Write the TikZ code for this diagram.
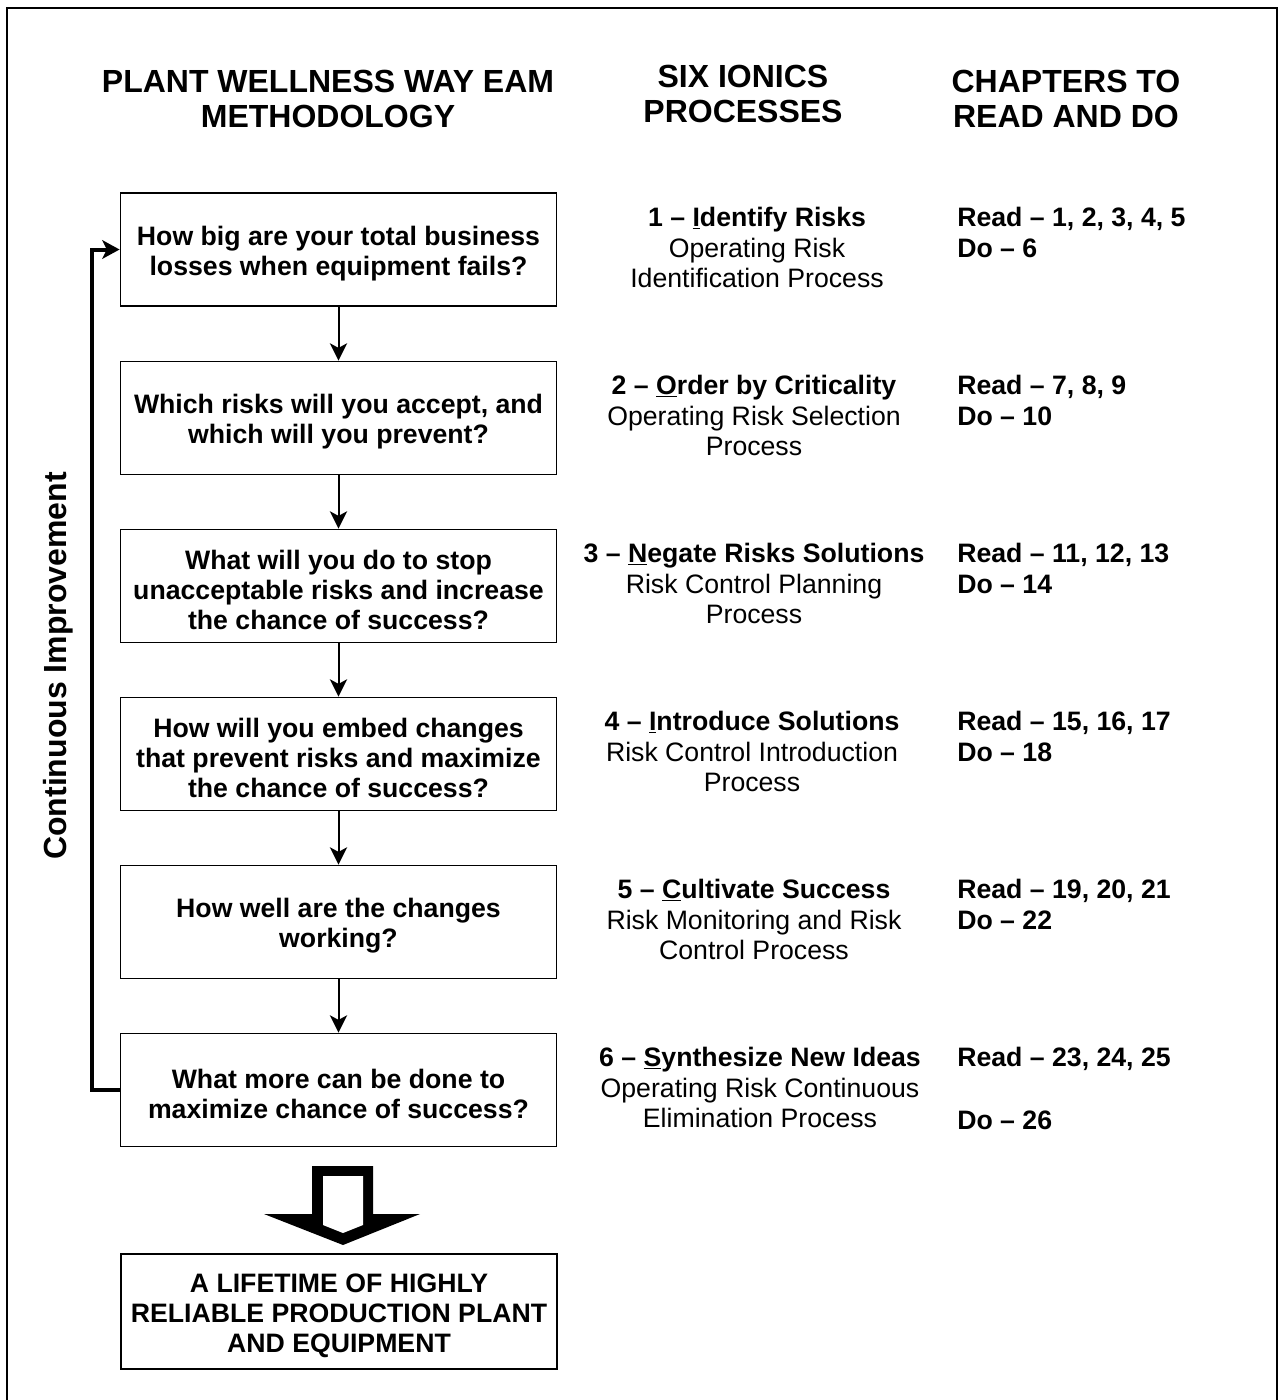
\documentclass[tikz,border=0pt]{standalone}
\usepackage{fontspec}
\setmainfont{Liberation Sans}
\usetikzlibrary{arrows.meta}
\newcommand{\topgap}{\rule{0pt}{20.5pt}}
\begin{document}
\begin{tikzpicture}[x=0.75pt,y=-0.75pt,
  qbox/.style={draw, line width=1.4pt, minimum width=327pt, minimum height=84.75pt,
    inner sep=0pt, align=center, font=\bfseries\fontsize{20}{22.5}\selectfont},
  hdr/.style={inner sep=0pt, align=center, anchor=north, font=\bfseries\fontsize{24}{26.25}\selectfont},
  midtxt/.style={inner sep=0pt, align=center, anchor=north, font=\fontsize{20}{23}\selectfont},
  chap/.style={inner sep=0pt, align=left, anchor=north west, font=\bfseries\fontsize{20}{23.5}\selectfont},
  flow/.style={line width=1.5pt, -{Stealth[length=13pt,width=13pt,inset=3.5pt]}},
  loop/.style={line width=3pt, -{Stealth[length=13pt,width=14pt,inset=3.5pt]}}]
\useasboundingbox (0,0) rectangle (1279,1400);
\draw[line width=1.5pt] (6.5,7.5) rectangle (1277,1420);

% headers
\node[hdr] (h1) at (328,70) {PLANT WELLNESS WAY EAM\\METHODOLOGY};
\node[hdr] (h2) at (743,64.5) {SIX IONICS\\PROCESSES};
\node[hdr] (h3) at (1066,70) {CHAPTERS TO\\READ AND DO};

% question boxes
\node[qbox] (b1) at (338.5,249.5) {\topgap How big are your total business\\losses when equipment fails?};
\node[qbox] (b2) at (338.5,418) {\topgap Which risks will you accept, and\\which will you prevent?};
\node[qbox] (b3) at (338.5,586) {\topgap What will you do to stop\\unacceptable risks and increase\\the chance of success?};
\node[qbox] (b4) at (338.5,754) {\topgap How will you embed changes\\that prevent risks and maximize\\the chance of success?};
\node[qbox] (b5) at (338.5,922) {\topgap How well are the changes\\working?};
\node[qbox] (b6) at (338.5,1090) {\topgap What more can be done to\\maximize chance of success?};
\node[qbox, minimum height=86.25pt] (fin) at (339,1311.5) {\topgap A LIFETIME OF HIGHLY\\RELIABLE PRODUCTION PLANT\\AND EQUIPMENT};

\draw[flow] (b1.south) -- (b2.north);
\draw[flow] (b2.south) -- (b3.north);
\draw[flow] (b3.south) -- (b4.north);
\draw[flow] (b4.south) -- (b5.north);
\draw[flow] (b5.south) -- (b6.north);

% continuous improvement loop
\coordinate (lx) at (92,0);
\draw[loop] (b6.west) -- (b6.west -| lx) -- (b1.west -| lx) -- (b1.west);
\node[rotate=90, inner sep=0pt, font=\bfseries\fontsize{24}{26}\selectfont] (ci) at (58,666) {Continuous Improvement};

% hollow block arrow
\fill[black] (312,1166) -- (373,1166) -- (373,1214) -- (420,1214) -- (343,1245) -- (264,1214) -- (312,1214) -- cycle;
\fill[white] (323,1176) -- (363,1176) -- (363,1225) -- (343,1233) -- (323,1225) -- cycle;

% six ionics processes
\node[midtxt] (p1) at (757,207) {\textbf{1 \textendash{} \underline{I}dentify Risks}\\Operating Risk\\Identification Process};
\node[midtxt] (p2) at (754,375) {\textbf{2 \textendash{} \underline{O}rder by Criticality}\\Operating Risk Selection\\Process};
\node[midtxt] (p3) at (754,543) {\textbf{3 \textendash{} \underline{N}egate Risks Solutions}\\Risk Control Planning\\Process};
\node[midtxt] (p4) at (752,711) {\textbf{4 \textendash{} \underline{I}ntroduce Solutions}\\Risk Control Introduction\\Process};
\node[midtxt] (p5) at (754,879) {\textbf{5 \textendash{} \underline{C}ultivate Success}\\Risk Monitoring and Risk\\Control Process};
\node[midtxt] (p6) at (760,1047) {\textbf{6 \textendash{} \underline{S}ynthesize New Ideas}\\Operating Risk Continuous\\Elimination Process};

% chapters
\node[chap] (c1) at (957,207) {Read \textendash{} 1, 2, 3, 4, 5\\Do \textendash{} 6};
\node[chap] (c2) at (957,375) {Read \textendash{} 7, 8, 9\\Do \textendash{} 10};
\node[chap] (c3) at (957,543) {Read \textendash{} 11, 12, 13\\Do \textendash{} 14};
\node[chap] (c4) at (957,711) {Read \textendash{} 15, 16, 17\\Do \textendash{} 18};
\node[chap] (c5) at (957,879) {Read \textendash{} 19, 20, 21\\Do \textendash{} 22};
\node[chap] (c6) at (957,1047) {Read \textendash{} 23, 24, 25\\[23.5pt]Do \textendash{} 26};
\end{tikzpicture}
\end{document}
